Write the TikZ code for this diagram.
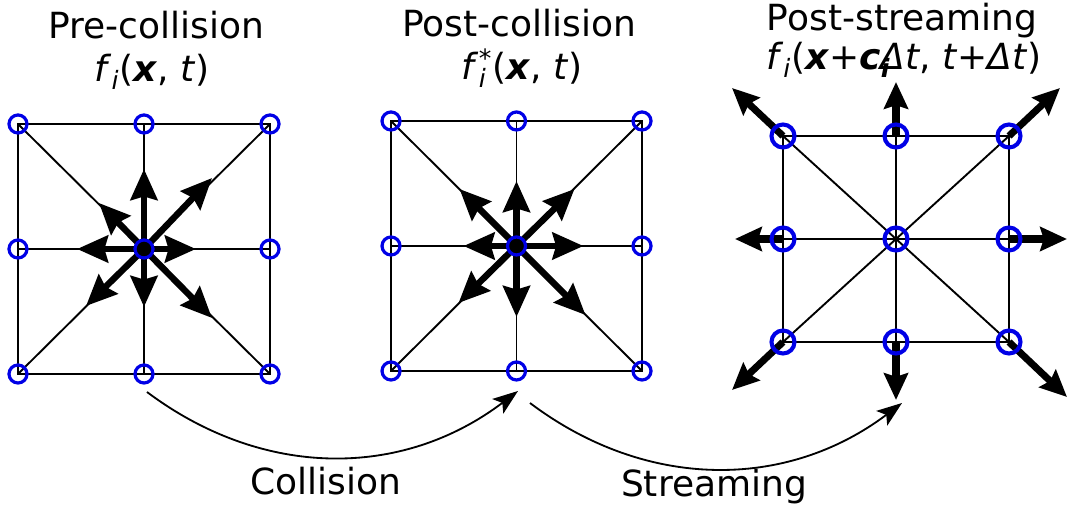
\documentclass[tikz,border=0pt]{standalone}
\usepackage{fontspec}
\setmainfont{DejaVu Sans}
\definecolor{siteblue}{HTML}{0000E6}
\usetikzlibrary{arrows.meta,positioning,calc,backgrounds}
\newcommand\distf{\textit{f}\textsubscript{\textit{i}}}
\newcommand\bvec[1]{\textbf{\textit{#1}}}

\begin{document}
\begin{tikzpicture}[x=0.025cm,y=-0.025cm,
  site/.style={circle,draw=siteblue,line width=2.3pt,minimum size=0.45cm,inner sep=0pt},
  bigsite/.style={site,line width=2.9pt,minimum size=0.575cm},
  link/.style={line width=1.35pt},
  pop/.style={line width=4.6pt,-{Stealth[length=22pt,width=19pt,inset=2.5pt]}},
  popstr/.style={line width=5pt,-{Stealth[length=19pt,width=17pt,inset=2.5pt]}},
  flow/.style={line width=1.3pt,-{Stealth[length=18pt,width=13pt,inset=4pt]}},
  headtxt/.style={font=\fontsize{25.6}{30}\selectfont,anchor=base,inner sep=0pt}]
  \useasboundingbox (0,0) rectangle (1068,511);
  % lattice sites
  \foreach \p/\ox/\oy/\dx/\dy/\s in {pre/18/124/126/125/site, post/391/121/125.5/125/site, str/783/136/113/103/bigsite}
    \foreach \i in {0,1,2}
      \foreach \j in {0,1,2}
        \node[\s] (\p-\i-\j) at (\ox+\i*\dx,\oy+\j*\dy) {};
  % titles
  \node[headtxt] (pre-title) at (156,39) {Pre-collision};
  \node[headtxt] (pre-fn) at (152,82) {\distf(\bvec{x}, \textit{t})};
  \node[headtxt] (post-title) at (519,37) {Post-collision};
  \node[headtxt] (post-fn) at (522,80) {\textit{f}\rlap{\textsubscript{\textit{i}}}\textsuperscript{*}(\bvec{x}, \textit{t})};
  \node[headtxt] (str-title) at (902,31) {Post-streaming};
  \node[headtxt] (str-fn) at (904,70) {\distf(\bvec{x}+\bvec{c}\rlap{\textsubscript{\bvec{i}}}\textit{Δt}, \textit{t}+\textit{Δt})};
  \begin{scope}[on background layer]
    % grid lines
    \foreach \p in {pre,post,str} {
      \draw[link] (\p-0-0.center) -- (\p-2-0.center) -- (\p-2-2.center) -- (\p-0-2.center) -- cycle;
      \draw[link] (\p-1-0.center) -- (\p-1-2.center);
      \draw[link] (\p-0-1.center) -- (\p-2-1.center);
      \draw[link] (\p-0-0.center) -- (\p-2-2.center);
      \draw[link] (\p-2-0.center) -- (\p-0-2.center);
    }
    % populations before collision
    \fill (pre-1-1) circle (9);
    \foreach \n/\ax/\ay in {e/52/0, w/-67/0, n/0/-80, s/0/58, ne/68/-71, nw/-45/-46, sw/-58/57, se/68/69} {
      \coordinate (pre-tip-\n) at ($(pre-1-1)+(\ax,\ay)$);
      \draw[pop] (pre-1-1.center) -- (pre-tip-\n);
    }
    % populations after collision
    \fill (post-1-1) circle (9);
    \foreach \n/\ax/\ay in {e/67/0, w/-53/0, n/0/-65, s/0/71, ne/58/-57, nw/-57/-57, sw/-58/57, se/69/69} {
      \coordinate (post-tip-\n) at ($(post-1-1)+(\ax,\ay)$);
      \draw[pop] (post-1-1.center) -- (post-tip-\n);
    }
    % populations after streaming
    \foreach \n/\src/\ax/\ay in {nw/0-0/-51/-48, n/1-0/0/-54, ne/2-0/51/-48, w/0-1/-48/0, e/2-1/58/0, sw/0-2/-51/48, s/1-2/0/58, se/2-2/58/55} {
      \coordinate (str-tip-\n) at ($(str-\src)+(\ax,\ay)$);
      \draw[popstr] (str-\src.center) -- (str-tip-\n);
    }
  \end{scope}
  % steps
  \coordinate (col-from) at (147,392);
  \coordinate (col-to) at (518,391);
  \draw[flow] (col-from) to[bend right=37] (col-to);
  \node[headtxt] (col-txt) at (326,495) {Collision};
  \coordinate (str-from) at (530,403);
  \coordinate (str-to) at (902,403);
  \draw[flow] (str-from) to[bend right=37] (str-to);
  \node[headtxt] (str-txt) at (714,497) {Streaming};
\end{tikzpicture}
\end{document}
